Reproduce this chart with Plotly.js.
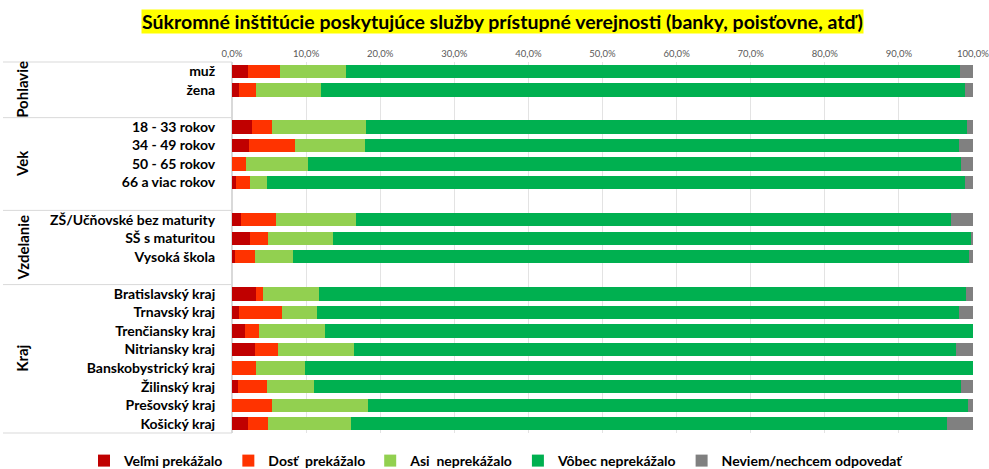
<!DOCTYPE html>
<html>
<head>
<meta charset="utf-8">
<script src="https://cdn.plot.ly/plotly-3.0.1.min.js"></script>
<style>html,body{margin:0;padding:0;background:#fff;}#chart{width:989px;height:469px;}</style>
</head>
<body>
<div id="chart"></div>
<script>
const titleText = 'Súkromné inštitúcie poskytujúce služby prístupné verejnosti (banky, poisťovne, atď)';
const groups = ['Pohlavie', 'Vek', 'Vzdelanie', 'Kraj'];
const groupSizes = [2, 4, 3, 8];
const categories = ['muž', 'žena',
  '18 - 33 rokov', '34 - 49 rokov', '50 - 65 rokov', '66 a viac rokov',
  'ZŠ/Učňovské bez maturity', 'SŠ s maturitou', 'Vysoká škola',
  'Bratislavský kraj', 'Trnavský kraj', 'Trenčiansky kraj', 'Nitriansky kraj',
  'Banskobystrický kraj', 'Žilinský kraj', 'Prešovský kraj', 'Košický kraj'];
const seriesNames = ['Veľmi prekážalo', 'Dosť  prekážalo', 'Asi  neprekážalo', 'Vôbec neprekážalo', 'Neviem/nechcem odpovedať'];
const velmi  = [2.1, 0.9, 2.7, 2.3, 0.0, 0.5, 1.2, 2.4, 0.4, 3.3, 0.9, 1.8, 3.1, 0.0, 0.8, 0.0, 2.1];
const dost   = [4.4, 2.4, 2.7, 6.2, 1.9, 1.9, 4.7, 2.4, 2.7, 0.9, 5.8, 1.8, 3.1, 3.3, 3.9, 5.4, 2.8];
const asi    = [8.9, 8.7, 12.7, 9.5, 8.3, 2.3, 10.9, 8.8, 5.1, 7.6, 4.8, 9.0, 10.3, 6.6, 6.3, 12.9, 11.2];
const vobec  = [82.9, 86.9, 81.1, 80.1, 88.2, 94.2, 80.2, 86.1, 91.3, 87.3, 86.6, 87.4, 81.2, 90.1, 87.4, 81.0, 80.4];
const neviem = [1.7, 1.1, 0.8, 1.9, 1.6, 1.1, 3.0, 0.3, 0.5, 0.9, 1.9, 0.0, 2.3, 0.0, 1.6, 0.7, 3.5];
const colors = ['#C00000', '#FF3300', '#92D050', '#00B050', '#808080'];
const tickVals = [0, 10, 20, 30, 40, 50, 60, 70, 80, 90, 100];
const tickText = ['0,0%', '10,0%', '20,0%', '30,0%', '40,0%', '50,0%', '60,0%', '70,0%', '80,0%', '90,0%', '100,0%'];

const FONT = 'Lato, "Open Sans", sans-serif';

// category order with an empty spacer slot after each group but the last
const catOrder = [];
const groupStart = [];
let idx = 0;
groups.forEach((g, gi) => {
  groupStart.push(catOrder.length);
  for (let k = 0; k < groupSizes[gi]; k++) catOrder.push(categories[idx++]);
  if (gi < groups.length - 1) catOrder.push(' '.repeat(gi + 1));
});
const N = catOrder.length;

const values = [velmi, dost, asi, vobec, neviem];
const traces = values.map((v, i) => ({
  type: 'bar', orientation: 'h', name: seriesNames[i],
  x: v, y: categories,
  marker: {color: colors[i], line: {width: 0}},
  hoverinfo: 'name+x'
}));

const plotW = 989 - 232 - 16;
const plotH = 469 - 62 - 36;
const leftPaper = -232 / plotW;
const shapes = [];
const annotations = [];
const bounds = [0];
groups.forEach((g, gi) => {
  const s = groupStart[gi];
  const e = gi < groups.length - 1 ? groupStart[gi + 1] : N;
  bounds.push(e);
  annotations.push({
    xref: 'paper', yref: 'paper', x: (22 - 232) / plotW, y: 1 - ((s + e) / 2) / N,
    text: '<b>' + g + '</b>', textangle: -90, showarrow: false,
    font: {family: FONT, size: 15, color: '#000'}, xanchor: 'center', yanchor: 'middle'
  });
});
bounds.forEach(b => {
  shapes.push({type: 'line', xref: 'paper', yref: 'paper', x0: leftPaper + 3 / plotW, x1: 0,
    y0: 1 - b / N, y1: 1 - b / N, line: {color: '#d9d9d9', width: 1}});
});

annotations.push({
  xref: 'paper', yref: 'paper', x: (502 - 232) / plotW, y: 1 + (62 - 21.5) / plotH,
  xanchor: 'center', yanchor: 'middle', showarrow: false,
  text: '<b>' + titleText + '</b>', bgcolor: '#FFFF00', borderpad: 0,
  font: {family: FONT, size: 19.5, color: '#000'}
});

const layout = {
  width: 989, height: 469,
  margin: {l: 232, r: 16, t: 62, b: 36, autoexpand: false},
  paper_bgcolor: '#fff', plot_bgcolor: '#fff',
  barmode: 'stack', bargap: 0.28,
  showlegend: true,
  legend: {orientation: 'h', x: (84 - 232) / plotW, xanchor: 'left', y: (433 - 461) / plotH, yanchor: 'middle',
    font: {family: FONT, size: 14, color: '#000', weight: 'bold'}, traceorder: 'normal', bgcolor: 'rgba(0,0,0,0)'},
  xaxis: {
    side: 'top', range: [0, 100], tickmode: 'array', tickvals: tickVals, ticktext: tickText,
    showgrid: true, gridcolor: '#e3e3e3', gridwidth: 1, zeroline: true, zerolinecolor: '#d9d9d9',
    showline: false, ticks: '', fixedrange: true, ticklabeloverflow: 'allow', ticklabelstandoff: 2,
    tickfont: {family: FONT, size: 9.5, color: '#595959'}
  },
  yaxis: {
    type: 'category', categoryorder: 'array', categoryarray: catOrder,
    range: [N - 0.5, -0.5], showgrid: false, zeroline: false,
    showline: true, linecolor: '#d9d9d9', ticks: 'outside', ticklen: 13, tickcolor: 'rgba(0,0,0,0)',
    tickfont: {family: FONT, size: 14, color: '#000', weight: 'bold'}, fixedrange: true
  },
  shapes: shapes,
  annotations: annotations
};

Plotly.newPlot('chart', traces, layout, {displayModeBar: false, staticPlot: true});
</script>
</body>
</html>
